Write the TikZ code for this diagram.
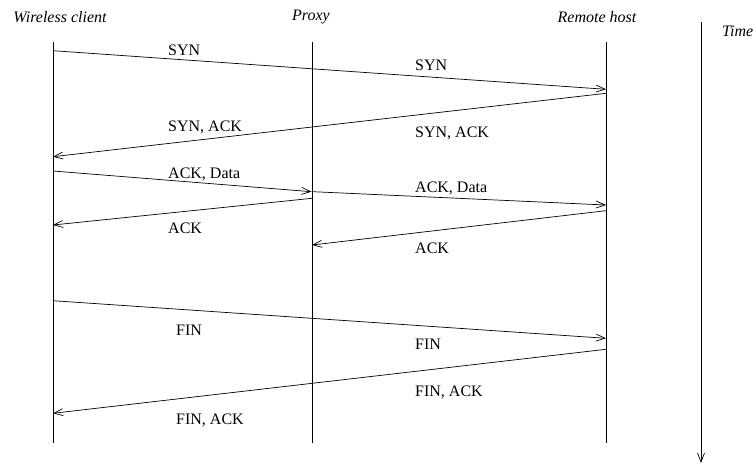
\documentclass[tikz,border=0pt]{standalone}
\usepackage{fontspec}
\setmainfont{Liberation Serif}
\usetikzlibrary{arrows.meta}
\tikzset{
  msg/.style={-{Straight Barb[length=9pt,width=7pt]}, line width=0.7pt},
  lifeline/.style={line width=0.7pt},
  lbl/.style={anchor=base west, inner sep=0pt, font=\fontsize{16}{19}\selectfont},
  head/.style={inner sep=0pt, font=\fontsize{16}{19}\selectfont\itshape}
}
\begin{document}
\begin{tikzpicture}[x=1pt,y=-1pt]
  \useasboundingbox (0,0) rectangle (754,463);

  % Lifelines
  \foreach \n/\x in {client/53, proxy/312, remote/606} {
    \coordinate (\n-top) at (\x,42);
    \coordinate (\n-bot) at (\x,443);
    \draw[lifeline] (\n-top) -- (\n-bot);
  }
  \node[head] (client-lbl) at (60,17) {Wireless client};
  \node[head] (proxy-lbl) at (311,17) {Proxy};
  \node[head] (remote-lbl) at (597,17) {Remote host};

  % Time axis
  \coordinate (t-top) at (701,22);
  \coordinate (t-bot) at (701,463);
  \draw[msg] (t-top) -- (t-bot);
  \node[head, anchor=west] (time-lbl) at (722,31) {Time};

  % Connection setup
  \coordinate (syn-a) at (53,50.7);
  \coordinate (syn-b) at (606,89.3);
  \draw[msg] (syn-a) -- (syn-b);
  \node[lbl] (syn-l1) at (168,55) {SYN};
  \node[lbl] (syn-l2) at (415,70) {SYN};

  \coordinate (synack-a) at (606,93.3);
  \coordinate (synack-b) at (53,156.7);
  \draw[msg] (synack-a) -- (synack-b);
  \node[lbl] (synack-l1) at (168,131) {SYN, ACK};
  \node[lbl] (synack-l2) at (415,137) {SYN, ACK};

  % Data transfer
  \coordinate (data-a) at (53,171);
  \coordinate (data-b) at (311.5,191.7);
  \coordinate (data-c) at (313,191.7);
  \coordinate (data-d) at (606,205);
  \draw[msg] (data-a) -- (data-b);
  \draw[msg] (data-c) -- (data-d);
  \node[lbl] (data-l1) at (168,178) {ACK, Data};
  \node[lbl] (data-l2) at (415,192) {ACK, Data};

  \coordinate (ack1-a) at (312,198.3);
  \coordinate (ack1-b) at (53,225);
  \draw[msg] (ack1-a) -- (ack1-b);
  \node[lbl] (ack1-l) at (168,233) {ACK};

  \coordinate (ack2-a) at (606,210.7);
  \coordinate (ack2-b) at (312,245);
  \draw[msg] (ack2-a) -- (ack2-b);
  \node[lbl] (ack2-l) at (415,253) {ACK};

  % Connection teardown
  \coordinate (fin-a) at (53,300.7);
  \coordinate (fin-b) at (606,338.3);
  \draw[msg] (fin-a) -- (fin-b);
  \node[lbl] (fin-l1) at (176,335) {FIN};
  \node[lbl] (fin-l2) at (415,349) {FIN};

  \coordinate (finack-a) at (606,349.3);
  \coordinate (finack-b) at (53,413.3);
  \draw[msg] (finack-a) -- (finack-b);
  \node[lbl] (finack-l1) at (415,396) {FIN, ACK};
  \node[lbl] (finack-l2) at (176,424) {FIN, ACK};
\end{tikzpicture}
\end{document}
